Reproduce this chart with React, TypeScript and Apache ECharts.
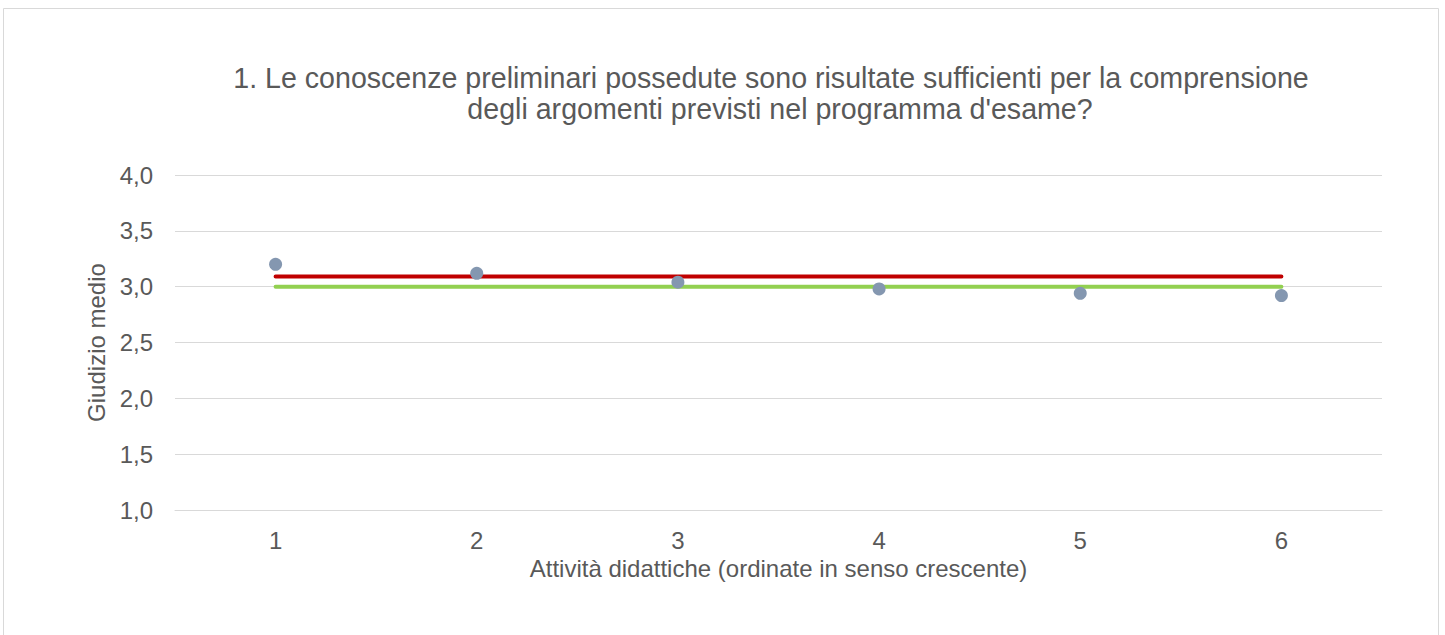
import React, { useEffect, useRef } from "react";
import * as echarts from "echarts";

const categories = ["1", "2", "3", "4", "5", "6"];
const mediaValues = [3.2, 3.12, 3.04, 2.98, 2.94, 2.92];
const redLine = [3.09, 3.09, 3.09, 3.09, 3.09, 3.09];
const greenLine = [3.0, 3.0, 3.0, 3.0, 3.0, 3.0];
const titleLines = [
  "1. Le conoscenze preliminari possedute sono risultate sufficienti per la comprensione",
  "degli argomenti previsti nel programma d'esame?",
];

export default function App() {
  const ref = useRef<HTMLDivElement>(null);
  useEffect(() => {
    if (!ref.current) return;
    const chart = echarts.init(ref.current, undefined, { renderer: "svg" });
    const font = "'Liberation Sans', Arial, sans-serif";
    const titleStyle = {
      fontFamily: font,
      fontSize: 28.6,
      fontWeight: "normal",
      color: "#595959",
      lineHeight: 29,
    };
    chart.setOption({
      animation: false,
      backgroundColor: "#ffffff",
      textStyle: { fontFamily: font },
      graphic: [
        {
          type: "rect",
          shape: { x: 3.5, y: 8.5, width: 1435, height: 640 },
          style: { fill: "none", stroke: "#d9d9d9", lineWidth: 1 },
          silent: true,
        },
      ],
      title: [
        {
          text: titleLines[0],
          left: 766,
          top: 58,
          textAlign: "center",
          textStyle: titleStyle,
        },
        {
          text: titleLines[1],
          left: 775,
          top: 89,
          textAlign: "center",
          textStyle: titleStyle,
        },
      ],
      grid: { left: 175, right: 63, top: 175, bottom: 125 },
      xAxis: {
        type: "category",
        data: categories,
        boundaryGap: true,
        name: "Attività didattiche (ordinate in senso crescente)",
        nameLocation: "middle",
        nameGap: 46,
        nameTextStyle: { fontFamily: font, fontSize: 24, color: "#595959" },
        axisLine: { lineStyle: { color: "#d9d9d9", width: 1 } },
        axisTick: { show: false },
        axisLabel: { fontFamily: font, fontSize: 24, color: "#595959", margin: 18 },
      },
      yAxis: {
        type: "value",
        min: 1,
        max: 4,
        interval: 0.5,
        name: "Giudizio medio",
        nameLocation: "middle",
        nameGap: 65,
        nameTextStyle: { fontFamily: font, fontSize: 24, color: "#595959" },
        axisLine: { show: false },
        axisTick: { show: false },
        splitLine: { lineStyle: { color: "#d9d9d9", width: 1 } },
        axisLabel: {
          fontFamily: font,
          fontSize: 24,
          color: "#595959",
          margin: 22,
          formatter: (v: number) => v.toFixed(1).replace(".", ","),
        },
      },
      series: [
        {
          type: "line",
          data: redLine,
          showSymbol: false,
          symbol: "none",
          lineStyle: { color: "#c00000", width: 4, cap: "round" },
          z: 2,
        },
        {
          type: "line",
          data: greenLine,
          showSymbol: false,
          symbol: "none",
          lineStyle: { color: "#92d050", width: 4, cap: "round" },
          z: 2,
        },
        {
          type: "scatter",
          data: mediaValues,
          symbol: "circle",
          symbolSize: 13,
          itemStyle: { color: "#8497b0", opacity: 1 },
          z: 3,
        },
      ],
    });
    return () => chart.dispose();
  }, []);
  return (
    <div
      ref={ref}
      style={{ position: "absolute", left: 0, top: 0, width: 1445, height: 635 }}
    />
  );
}
